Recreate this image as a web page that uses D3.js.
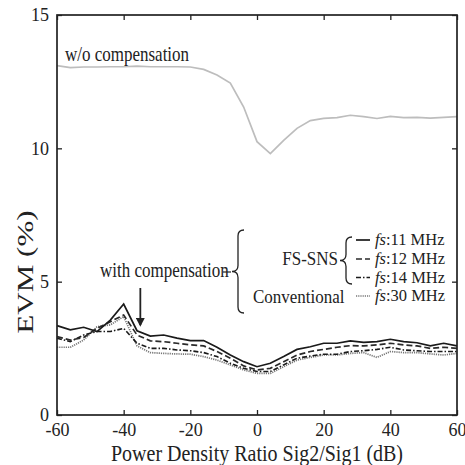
<!DOCTYPE html>
<html>
<head>
<meta charset="utf-8">
<script src="https://cdn.jsdelivr.net/npm/d3@7"></script>
<style>
  body { margin: 0; background: #fff; }
  text { font-family: "Liberation Serif", "Times New Roman", serif; fill: #222; }
</style>
</head>
<body>
<svg width="465" height="465"></svg>
<script>
// power density ratio (dB), 4 dB steps
var ratio = [-60,-56,-52,-48,-44,-40,-36,-32,-28,-24,-20,-16,-12,-8,-4,0,4,8,12,16,20,24,28,32,36,40,44,48,52,56,60];

// EVM (%)
var noComp = [13.1,13.03,13.05,13.05,13.06,13.06,13.08,13.06,13.06,13.06,13.05,12.96,12.75,12.45,11.55,10.25,9.8,10.3,10.75,11.04,11.12,11.15,11.24,11.19,11.12,11.2,11.15,11.16,11.13,11.16,11.19];
var fs11 = [3.35,3.19,3.29,3.13,3.56,4.16,3.16,2.96,3.0,2.88,2.79,2.79,2.54,2.25,2.0,1.81,1.94,2.19,2.46,2.56,2.69,2.69,2.78,2.72,2.75,2.84,2.75,2.71,2.59,2.69,2.59];
var fs12 = [2.94,2.81,2.91,3.25,3.5,3.75,3.0,2.78,2.75,2.69,2.63,2.59,2.38,2.13,1.84,1.69,1.75,2.0,2.25,2.38,2.46,2.54,2.6,2.59,2.63,2.69,2.63,2.59,2.5,2.54,2.5];
var fs14 = [2.88,2.75,3.0,3.13,3.13,3.25,2.69,2.5,2.5,2.44,2.41,2.34,2.19,1.94,1.75,1.63,1.63,1.88,2.13,2.21,2.28,2.28,2.38,2.41,2.46,2.54,2.44,2.41,2.38,2.38,2.38];
var fs30 = [2.54,2.54,2.81,3.31,3.38,3.69,2.59,2.34,2.31,2.29,2.28,2.19,2.06,1.88,1.69,1.56,1.56,1.81,2.06,2.16,2.25,2.25,2.31,2.34,2.16,2.38,2.34,2.34,2.29,2.25,2.31];

var seriesNames = ["11 MHz","12 MHz","14 MHz","30 MHz"];
var xTicks = [-60,-40,-20,0,20,40,60];
var yTicks = [0,5,10,15];

var width = 465, height = 465;
var margin = {left: 57, right: 8, top: 15, bottom: 50};

var x = d3.scaleLinear().domain([-60,60]).range([margin.left, width - margin.right]);
var y = d3.scaleLinear().domain([0,15]).range([height - margin.bottom, margin.top]);

var svg = d3.select("svg");

var styles = [
  {stroke: "#1a1a1a", dash: null, w: 1.7},
  {stroke: "#2a2a2a", dash: "6,3", w: 1.7},
  {stroke: "#1a1a1a", dash: "5,2,1.5,2", w: 1.6},
  {stroke: "#777", dash: "1.2,1", w: 1.7}
];

var line = d3.line()
  .x(function(d, i) { return x(ratio[i]); })
  .y(function(d) { return y(d); });

// text a bit taller than the font (the figure is stretched vertically)
function label(px, py, size, str, sy) {
  return svg.append("text")
    .attr("transform", "translate(" + px + "," + py + ") scale(1," + (sy || 1.18) + ")")
    .style("font-size", size + "px")
    .text(str);
}

// curves
svg.append("path")
  .attr("d", line(noComp))
  .attr("fill", "none")
  .attr("stroke", "#bdbdbd")
  .attr("stroke-width", 1.7);

[fs30, fs14, fs12, fs11].forEach(function(s, k) {
  var st = styles[3 - k];
  svg.append("path")
    .attr("d", line(s))
    .attr("fill", "none")
    .attr("stroke", st.stroke)
    .attr("stroke-width", st.w)
    .attr("stroke-dasharray", st.dash);
});

// axes with inward ticks
var x0 = margin.left, x1 = width - margin.right, y0 = height - margin.bottom, y1 = margin.top;

svg.append("g")
  .attr("transform", "translate(0," + y0 + ")")
  .call(d3.axisBottom(x).tickValues(xTicks).tickSize(-5).tickPadding(8).tickFormat(function(d) { return String(d); }));
svg.append("g")
  .attr("transform", "translate(0," + y1 + ")")
  .call(d3.axisTop(x).tickValues(xTicks).tickSize(-5).tickFormat(""));
svg.append("g")
  .attr("transform", "translate(" + x0 + ",0)")
  .call(d3.axisLeft(y).tickValues(yTicks).tickSize(-5).tickPadding(8));
svg.append("g")
  .attr("transform", "translate(" + x1 + ",0)")
  .call(d3.axisRight(y).tickValues(yTicks).tickSize(-5).tickFormat(""));

svg.selectAll(".domain").remove();
svg.selectAll(".tick line").attr("stroke", "#222").attr("stroke-width", 1.3);
svg.selectAll(".tick text")
  .style("font-family", "'Liberation Serif', serif")
  .style("font-size", "18px")
  .attr("fill", "#222");

svg.append("rect")
  .attr("x", x0).attr("y", y1)
  .attr("width", x1 - x0).attr("height", y0 - y1)
  .attr("fill", "none")
  .attr("stroke", "#222")
  .attr("stroke-width", 1.7);

// axis titles
label((x0 + x1) / 2, 461, 20, "Power Density Ratio Sig2/Sig1 (dB)", 1.2)
  .attr("text-anchor", "middle");

svg.append("text")
  .attr("transform", "translate(33,272) rotate(-90) scale(1.35,1)")
  .attr("text-anchor", "middle")
  .style("font-size", "23px")
  .text("EVM (%)");

// annotations
label(65, 61, 17, "w/o compensation");
label(100, 277, 17, "with compensation");

svg.append("line")
  .attr("x1", 223).attr("x2", 231)
  .attr("y1", 272).attr("y2", 272)
  .attr("stroke", "#222").attr("stroke-width", 1.2);

// arrow
svg.append("defs").append("marker")
  .attr("id", "head")
  .attr("viewBox", "0 0 10 10")
  .attr("refX", 8).attr("refY", 5)
  .attr("markerWidth", 5).attr("markerHeight", 5)
  .attr("orient", "auto")
  .append("path")
  .attr("d", "M0,0L10,5L0,10z")
  .attr("fill", "#222");

svg.append("line")
  .attr("x1", x(-35)).attr("x2", x(-35))
  .attr("y1", 288).attr("y2", 325)
  .attr("stroke", "#222").attr("stroke-width", 1.8)
  .attr("marker-end", "url(#head)");

function brace(cx, top, bottom, w) {
  var mid = (top + bottom) / 2, h = w / 2;
  return "M" + (cx + w) + "," + top +
    "Q" + (cx + h) + "," + top + " " + (cx + h) + "," + (top + h) +
    "L" + (cx + h) + "," + (mid - h) +
    "Q" + (cx + h) + "," + mid + " " + cx + "," + mid +
    "Q" + (cx + h) + "," + mid + " " + (cx + h) + "," + (mid + h) +
    "L" + (cx + h) + "," + (bottom - h) +
    "Q" + (cx + h) + "," + bottom + " " + (cx + w) + "," + bottom;
}

svg.append("path")
  .attr("d", brace(232, 230, 313, 12))
  .attr("fill", "none").attr("stroke", "#222").attr("stroke-width", 1.3);

svg.append("path")
  .attr("d", brace(340, 237, 284, 12))
  .attr("fill", "none").attr("stroke", "#222").attr("stroke-width", 1.3);

label(338, 265, 17, "FS-SNS", 1.05).attr("text-anchor", "end");
label(253, 303, 17, "Conventional", 1.05);

// legend rows
var rowY = [245, 264, 282.5, 301];
seriesNames.forEach(function(name, i) {
  var st = styles[i];
  svg.append("line")
    .attr("x1", 356).attr("x2", 370)
    .attr("y1", rowY[i] - 5).attr("y2", rowY[i] - 5)
    .attr("stroke", st.stroke)
    .attr("stroke-width", st.w)
    .attr("stroke-dasharray", st.dash);
  var t = label(375, rowY[i], 16.5, null, 1.05);
  t.append("tspan").style("font-style", "italic").text("fs");
  t.append("tspan").text(":" + name);
});
</script>
</body>
</html>
